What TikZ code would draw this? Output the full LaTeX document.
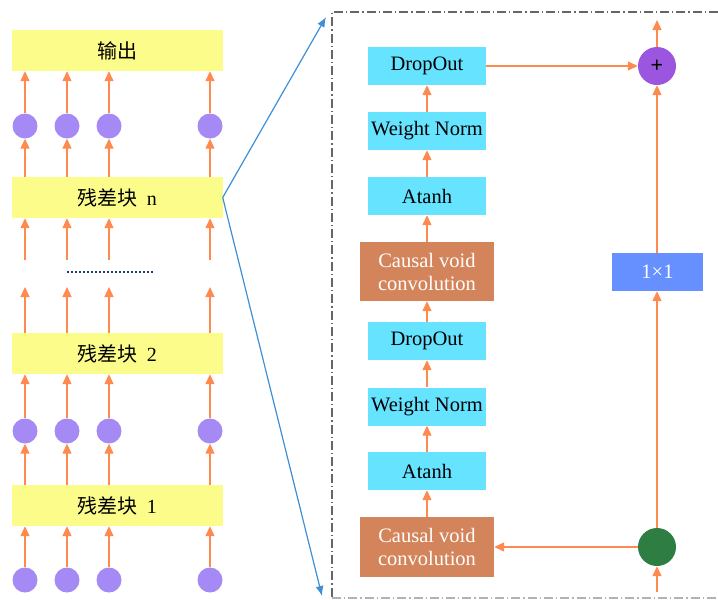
\documentclass[tikz,border=0pt]{standalone}
\usepackage{fontspec}
\setmainfont{Liberation Serif}
\newfontfamily\cjk{Noto Sans CJK SC}
\usetikzlibrary{arrows.meta}
\definecolor{ylw}{HTML}{FCFC8A}
\definecolor{lav}{HTML}{A58AF5}
\definecolor{org}{HTML}{FF8A50}
\definecolor{cyn}{HTML}{66E4FF}
\definecolor{brn}{HTML}{D4845A}
\definecolor{bbox}{HTML}{6690FF}
\definecolor{pur}{HTML}{9B55DF}
\definecolor{grn}{HTML}{2E7D42}
\definecolor{lblue}{HTML}{3D8FD6}
\definecolor{navy}{HTML}{1F3A6E}
\tikzset{
  ybox/.style={fill=ylw,draw=none,minimum width=211pt,minimum height=41pt,inner sep=0pt,font=\fontsize{20}{24}\selectfont},
  dotc/.style={circle,fill=lav,draw=none,minimum size=25pt,inner sep=0pt},
  arr/.style={draw=org,line width=1.3pt,-{Triangle[length=10pt,width=9pt]},color=org},
  cbox/.style={fill=cyn,draw=none,minimum width=118pt,minimum height=38pt,inner sep=0pt,font=\fontsize{20.5}{24}\selectfont},
  brbox/.style={fill=brn,draw=none,minimum width=134pt,minimum height=59pt,inner sep=0pt,text=white,align=center,font=\fontsize{20.5}{23}\selectfont},
  bluebox/.style={fill=bbox,draw=none,minimum width=91pt,minimum height=38pt,inner sep=0pt,text=white,font=\fontsize{20.5}{24}\selectfont},
  bigc/.style={circle,draw=none,minimum size=38pt,inner sep=0pt},
  zoomln/.style={draw=lblue,line width=1.2pt,-{Latex[length=10pt,width=8pt]}},
  dashdotln/.style={draw=black!60,line width=1.3pt,dash pattern=on 9pt off 3pt on 1.3pt off 3pt}
}
\begin{document}
\begin{tikzpicture}[x=1pt,y=-1pt]
\useasboundingbox (0,0) rectangle (718,600);
% left column boxes
\node[ybox] (out) at (117,50.5) {\cjk 输出};
\node[ybox] (bn) at (117,197.5) {{\cjk 残差块}\ \ n};
\node[ybox] (b2) at (117,353.5) {{\cjk 残差块}\ \ 2};
\node[ybox] (b1) at (117,505.5) {{\cjk 残差块}\ \ 1};
% circles
\foreach \i/\x in {1/25,2/67,3/109,4/210}{
  \node[dotc] (t\i) at (\x,126) {};
  \node[dotc] (m\i) at (\x,431) {};
  \node[dotc] (d\i) at (\x,580) {};
  \coordinate (lo\i) at (\x,260);
  \coordinate (hi\i) at (\x,287);
  \draw[arr] (t\i.north) -- (t\i.north |- out.south);
  \draw[arr] (t\i.south |- bn.north) -- (t\i.south);
  \draw[arr] (lo\i) -- (lo\i |- bn.south);
  \draw[arr] (hi\i |- b2.north) -- (hi\i);
  \draw[arr] (m\i.north) -- (m\i.north |- b2.south);
  \draw[arr] (m\i.south |- b1.north) -- (m\i.south);
  \draw[arr] (d\i.north) -- (d\i.north |- b1.south);
}
\coordinate (dotA) at (67,272);
\coordinate (dotB) at (153,272);
\draw[navy,line width=1.8pt,dash pattern=on 1.8pt off 2.2pt] (dotA) -- (dotB);
% zoom lines
\coordinate (zt) at (326,17);
\coordinate (zb) at (322,596);
\draw[zoomln] (bn.east) -- (zt);
\draw[zoomln] (bn.east) -- (zb);
% dash-dot frame
\coordinate (f1) at (718,12);
\coordinate (f2) at (332,12);
\coordinate (f3) at (332,598);
\coordinate (f4) at (718,598);
\draw[dashdotln] (f1) -- (f2) -- (f3);
\draw[dashdotln,draw=black!30] (f3) -- (f4);
% right column
\node[cbox] (do1) at (427,66) {DropOut};
\node[cbox] (wn1) at (427,131) {Weight Norm};
\node[cbox] (at1) at (427,196) {Atanh};
\node[brbox] (cv1) at (427,271.5) {Causal void\\convolution};
\node[cbox] (do2) at (427,341) {DropOut};
\node[cbox] (wn2) at (427,406.5) {Weight Norm};
\node[cbox] (at2) at (427,471) {Atanh};
\node[brbox,minimum height=60pt] (cv2) at (427,547) {Causal void\\convolution};
\node[bigc,fill=pur,font=\bfseries\fontsize{22}{24}\selectfont] (plus) at (657,66) {+};
\node[bluebox] (one) at (657.5,272) {1\texttimes 1};
\node[bigc,fill=grn] (gr) at (657,547) {};
\coordinate (inp) at (657,592);
\coordinate (outp) at (657,20);
\draw[arr] (cv2) -- (at2);
\draw[arr] (at2) -- (wn2);
\draw[arr] (wn2) -- (do2);
\draw[arr] (do2) -- (cv1);
\draw[arr] (cv1) -- (at1);
\draw[arr] (at1) -- (wn1);
\draw[arr] (wn1) -- (do1);
\draw[arr] (do1.east) -- (plus.west);
\draw[arr] (plus.north) -- (outp);
\draw[arr] (one.north -| plus) -- (plus.south);
\draw[arr] (gr.north) -- (gr.north |- one.south);
\draw[arr] (gr.west) -- (cv2.east);
\draw[arr] (inp) -- (gr.south);
\end{tikzpicture}
\end{document}
